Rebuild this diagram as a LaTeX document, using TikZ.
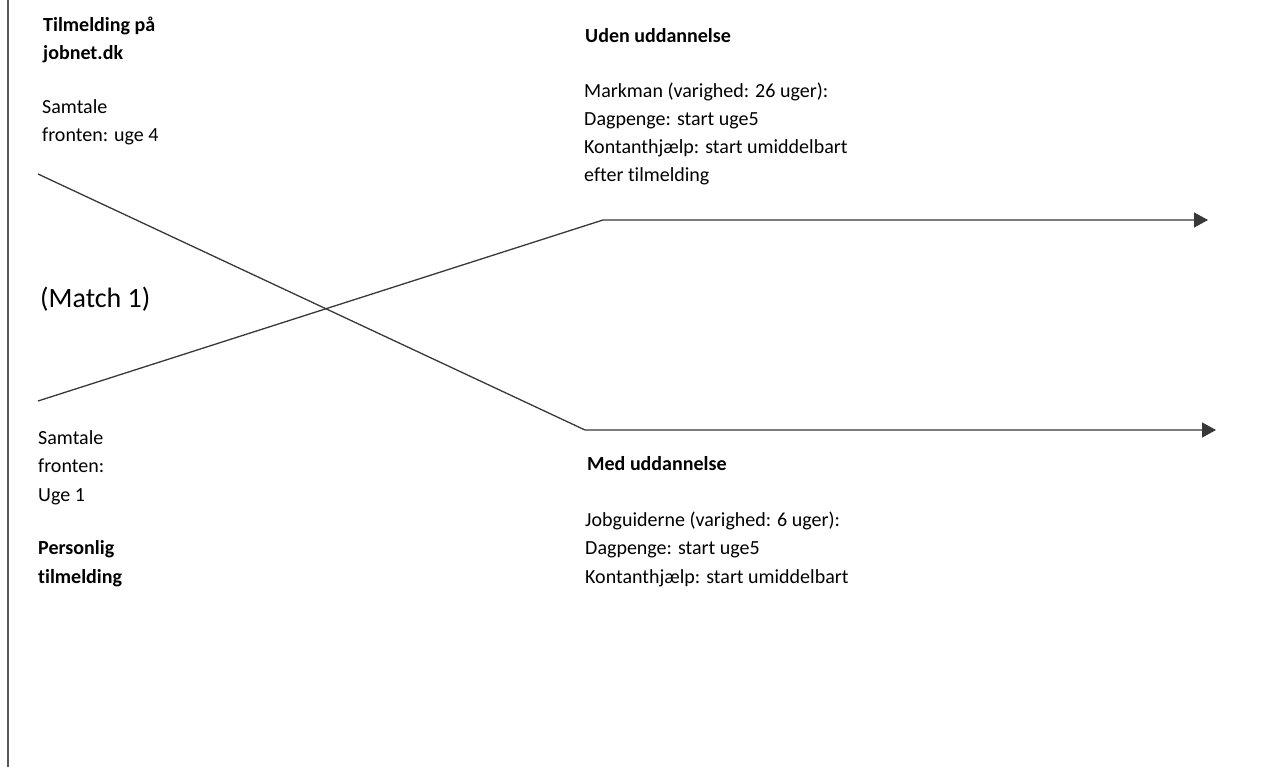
\documentclass[tikz,border=0pt]{standalone}
\usepackage{fontspec}
\setmainfont{Carlito}[Ligatures={NoCommon,NoDiscretionary,NoContextual}]
\usetikzlibrary{arrows.meta}
\begin{document}
\begin{tikzpicture}[x=1pt,y=-1pt,
  txt/.style={anchor=base west,inner sep=0pt,align=left,font=\fontsize{20}{28.3}\selectfont},
  hd/.style={txt,font=\fontsize{20}{28.3}\selectfont\bfseries},
  conn/.style={draw=black!78,line width=1.3pt},
  tip/.style={-{Triangle[length=14pt,width=15pt]}}]
\useasboundingbox (0,0) rectangle (1261,767);
\draw[black!65,line width=2pt] (8,0) -- (8,767);
% anchors are at the baseline of the last line
\node[hd] (t1) at (43,60) {Tilmelding på\\jobnet.dk};
\node[txt] (t2) at (42,142) {Samtale\\fronten: uge 4};
\node[txt,font=\fontsize{28}{32}\selectfont] (m1) at (40,308) {(Match 1)};
\node[txt] (t3) at (38,501) {Samtale\\fronten:\\Uge 1};
\node[hd] (t4) at (38,583) {Personlig\\tilmelding};
\node[hd] (u1) at (585,43) {Uden uddannelse};
\node[txt] (u2) at (584,182) {Markman (varighed: 26 uger):\\Dagpenge: start uge5\\Kontanthjælp: start umiddelbart\\efter tilmelding};
\node[hd] (d1) at (587,470) {Med uddannelse};
\node[txt] (d2) at (585,583) {Jobguiderne (varighed: 6 uger):\\Dagpenge: start uge5\\Kontanthjælp: start umiddelbart};
\coordinate (s1) at (38,174);
\coordinate (b1) at (585,430);
\coordinate (e1) at (1216,430);
\coordinate (s2) at (38,401);
\coordinate (b2) at (603,220);
\coordinate (e2) at (1208,220);
\draw[conn,tip] (s1) -- (b1) -- (e1);
\draw[conn,tip] (s2) -- (b2) -- (e2);
\end{tikzpicture}
\end{document}
